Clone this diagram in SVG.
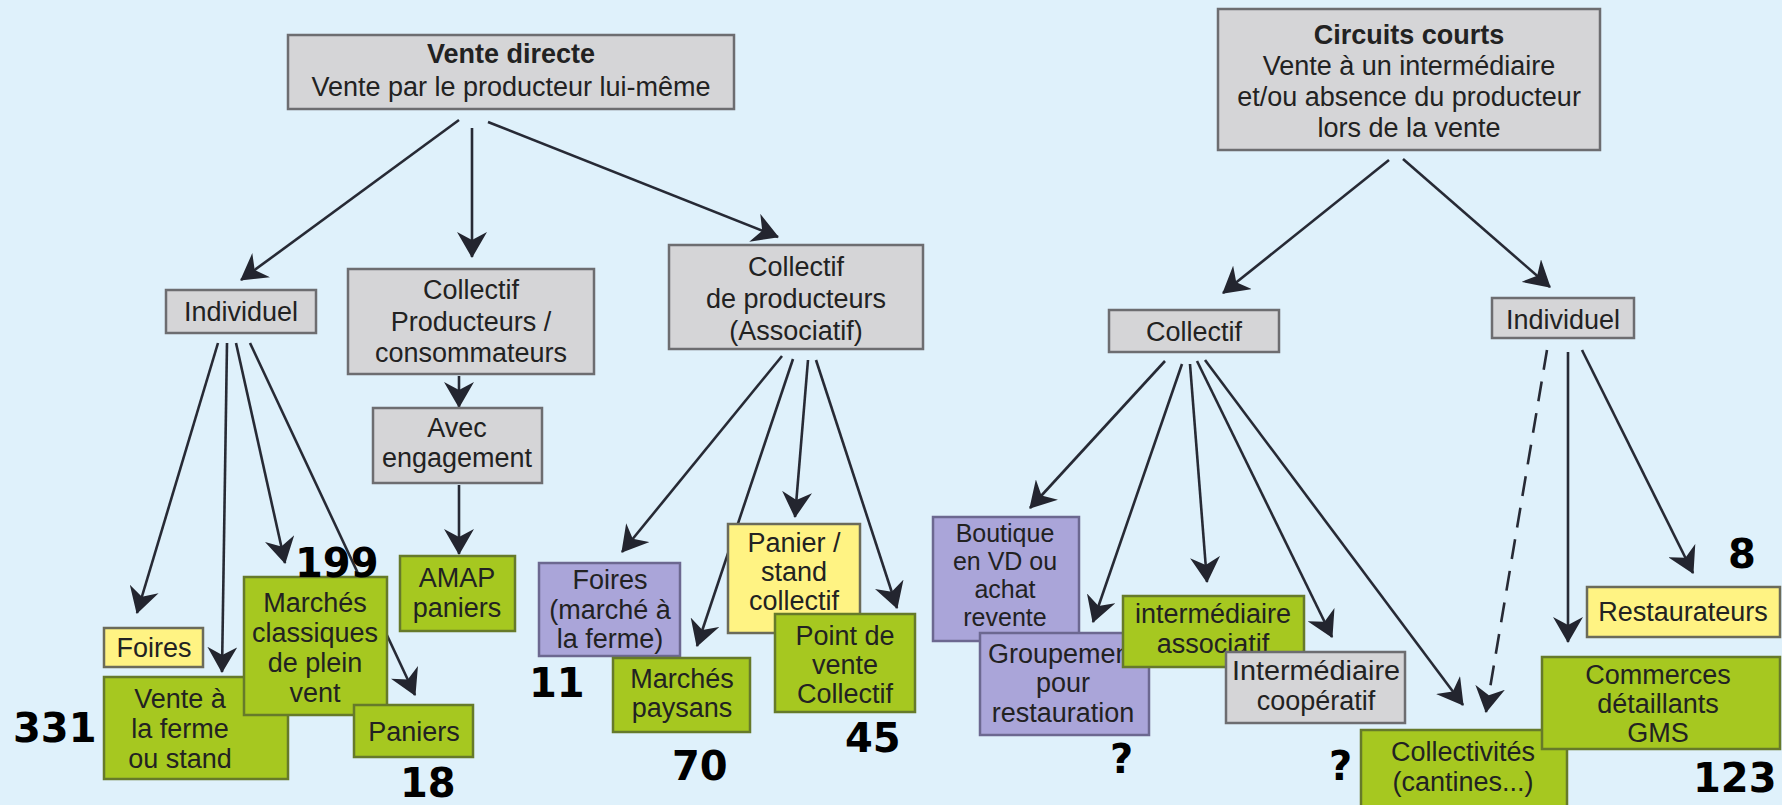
<svg xmlns="http://www.w3.org/2000/svg" width="1782" height="805" viewBox="0 0 1782 805">
<style>
.bx{stroke-width:2.5}
.g{fill:#d5d5d7;stroke:#6d6d70}
.gr{fill:#a6c820;stroke:#667a2a}
.y{fill:#fff383;stroke:#6b6b5a}
.l{fill:#aaa5d9;stroke:#6c6890}
text{font-family:"Liberation Sans",Arial,sans-serif;font-size:27px;fill:#222;text-anchor:middle}
.b{font-weight:bold}
.s{font-size:25px}
.n{font-family:"DejaVu Sans",Verdana,sans-serif;font-weight:bold;font-size:40px;fill:#000;text-anchor:start}
.c line{stroke:#272a35;stroke-width:2.6;fill:none;marker-end:url(#ah)}
.c line.d{stroke-dasharray:20 12}
</style>
<defs>
<marker id="ah" viewBox="0 0 26 30" refX="25" refY="15" markerWidth="26" markerHeight="30" markerUnits="userSpaceOnUse" orient="auto">
<path d="M0,0 L26,15 L0,30 L8,15 z" fill="#23252f"/>
</marker>
</defs>
<rect width="1782" height="805" fill="#dff1fb"/>
<g id="connectors" class="c">
<line x1="459" y1="120" x2="241" y2="280"/>
<line x1="472" y1="128" x2="472" y2="257"/>
<line x1="488" y1="122" x2="778" y2="237"/>
<line x1="459" y1="376" x2="459" y2="407"/>
<line x1="459" y1="485" x2="459" y2="554"/>
<line x1="218" y1="343" x2="137" y2="613"/>
<line x1="227" y1="343" x2="222" y2="672"/>
<line x1="236" y1="343" x2="285" y2="563"/>
<line x1="250" y1="343" x2="415" y2="695"/>
<line x1="782" y1="356" x2="622" y2="552"/>
<line x1="793" y1="359" x2="697" y2="646"/>
<line x1="808" y1="360" x2="795" y2="517"/>
<line x1="816" y1="360" x2="897" y2="608"/>
<line x1="1389" y1="160" x2="1223" y2="293"/>
<line x1="1403" y1="159" x2="1550" y2="287"/>
<line x1="1165" y1="361" x2="1030" y2="508"/>
<line x1="1182" y1="364" x2="1093" y2="622"/>
<line x1="1190" y1="364" x2="1207" y2="582"/>
<line x1="1197" y1="361" x2="1332" y2="637"/>
<line x1="1205" y1="360" x2="1463" y2="705"/>
<line class="d" x1="1547" y1="350" x2="1486" y2="712"/>
<line x1="1568" y1="352" x2="1568" y2="642"/>
<line x1="1582" y1="350" x2="1693" y2="573"/>
</g>
<g id="vente-directe"><rect class="bx g" x="288" y="35" width="446" height="74"/><text class="b" x="511" y="63">Vente directe</text><text x="511" y="96">Vente par le producteur lui-même</text></g>
<g id="circuits-courts"><rect class="bx g" x="1218" y="9" width="382" height="141"/><text class="b" x="1409" y="44">Circuits courts</text><text x="1409" y="75">Vente à un intermédiaire</text><text x="1409" y="106">et/ou absence du producteur</text><text x="1409" y="137">lors de la vente</text></g>
<g id="individuel-vd"><rect class="bx g" x="166" y="290" width="150" height="43"/><text x="241" y="321">Individuel</text></g>
<g id="collectif-pc"><rect class="bx g" x="348" y="269" width="246" height="105"/><text x="471" y="299">Collectif</text><text x="471" y="331">Producteurs /</text><text x="471" y="362">consommateurs</text></g>
<g id="collectif-prod"><rect class="bx g" x="669" y="245" width="254" height="104"/><text x="796" y="276">Collectif</text><text x="796" y="308">de producteurs</text><text x="796" y="340">(Associatif)</text></g>
<g id="avec-engagement"><rect class="bx g" x="373" y="408" width="169" height="75"/><text x="457" y="437">Avec</text><text x="457" y="467">engagement</text></g>
<g id="amap"><rect class="bx gr" x="400" y="556" width="115" height="75"/><text x="457" y="587">AMAP</text><text x="457" y="617">paniers</text></g>
<g id="foires-ind"><rect class="bx y" x="104" y="628" width="99" height="39"/><text x="154" y="657">Foires</text></g>
<g id="vente-ferme"><rect class="bx gr" x="104" y="677" width="184" height="102"/><text x="180" y="708">Vente à</text><text x="180" y="738">la ferme</text><text x="180" y="768">ou stand</text></g>
<g id="marches-classiques"><rect class="bx gr" x="244" y="577" width="143" height="138"/><text x="315" y="612">Marchés</text><text x="315" y="642">classiques</text><text x="315" y="672">de plein</text><text x="315" y="702">vent</text></g>
<g id="paniers"><rect class="bx gr" x="354" y="705" width="119" height="52"/><text x="414" y="741">Paniers</text></g>
<g id="foires-marche"><rect class="bx l" x="539" y="563" width="141" height="93"/><text x="610" y="589">Foires</text><text x="610" y="619">(marché à</text><text x="610" y="648">la ferme)</text></g>
<g id="marches-paysans"><rect class="bx gr" x="613" y="658" width="137" height="74"/><text x="682" y="688">Marchés</text><text x="682" y="717">paysans</text></g>
<g id="panier-stand"><rect class="bx y" x="728" y="524" width="132" height="109"/><text x="794" y="552">Panier /</text><text x="794" y="581">stand</text><text x="794" y="610">collectif</text></g>
<g id="point-vente"><rect class="bx gr" x="775" y="614" width="140" height="98"/><text x="845" y="645">Point de</text><text x="845" y="674">vente</text><text x="845" y="703">Collectif</text></g>
<g id="collectif-cc"><rect class="bx g" x="1109" y="310" width="170" height="42"/><text x="1194" y="341">Collectif</text></g>
<g id="individuel-cc"><rect class="bx g" x="1492" y="298" width="142" height="40"/><text x="1563" y="329">Individuel</text></g>
<g id="boutique"><rect class="bx l" x="933" y="517" width="146" height="124"/><text class="s" x="1005" y="542">Boutique</text><text class="s" x="1005" y="570">en VD ou</text><text class="s" x="1005" y="598">achat</text><text class="s" x="1005" y="626">revente</text></g>
<g id="groupement"><rect class="bx l" x="980" y="633" width="169" height="102"/><text x="1063" y="663">Groupement</text><text x="1063" y="692">pour</text><text x="1063" y="722">restauration</text></g>
<g id="inter-assoc"><rect class="bx gr" x="1123" y="596" width="181" height="71"/><text x="1213" y="623">intermédiaire</text><text x="1213" y="653">associatif</text></g>
<g id="inter-coop"><rect class="bx g" x="1226" y="652" width="179" height="71"/><text x="1316" y="680" textLength="168" lengthAdjust="spacingAndGlyphs">Intermédiaire</text><text x="1316" y="710">coopératif</text></g>
<g id="collectivites"><rect class="bx gr" x="1361" y="730" width="206" height="80"/><text x="1463" y="761">Collectivités</text><text x="1463" y="791">(cantines...)</text></g>
<g id="restaurateurs"><rect class="bx y" x="1587" y="587" width="193" height="50"/><text x="1683" y="621">Restaurateurs</text></g>
<g id="commerces"><rect class="bx gr" x="1542" y="657" width="238" height="92"/><text x="1658" y="684">Commerces</text><text x="1658" y="713">détaillants</text><text x="1658" y="742">GMS</text></g>
<g id="numbers">
<text class="n" x="13" y="742">331</text>
<text class="n" x="295" y="577">199</text>
<text class="n" x="400" y="797">18</text>
<text class="n" x="529" y="697">11</text>
<text class="n" x="672" y="780">70</text>
<text class="n" x="845" y="752">45</text>
<text class="n" x="1110" y="773">?</text>
<text class="n" x="1329" y="780">?</text>
<text class="n" x="1728" y="568">8</text>
<text class="n" x="1693" y="792">123</text>
</g>
</svg>
